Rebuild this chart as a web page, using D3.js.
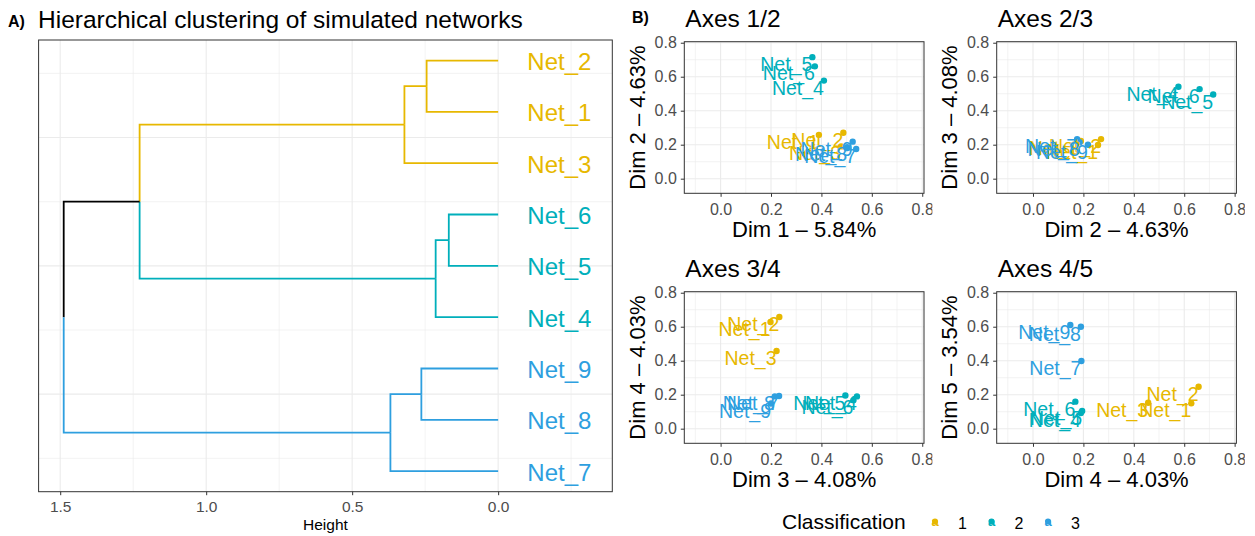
<!DOCTYPE html>
<html>
<head>
<meta charset="utf-8">
<script src="https://d3js.org/d3.v7.min.js"></script>
<style>
  body { margin: 0; background: #fff; }
  text { font-family: "Liberation Sans", Arial, sans-serif; }
</style>
</head>
<body>
<div id="chart"></div>
<script>
//networks and their cluster
var netNames = ["Net_1", "Net_2", "Net_3", "Net_4", "Net_5", "Net_6", "Net_7", "Net_8", "Net_9"];
var netCluster = [1, 1, 1, 2, 2, 2, 3, 3, 3];
var clusterColors = ["#E7B800", "#00AFBB", "#2E9FDF"];

//dendrogram: leaves from bottom to top, then the merges (R hclust style)
var leafOrder = ["Net_7", "Net_8", "Net_9", "Net_4", "Net_5", "Net_6", "Net_3", "Net_1", "Net_2"];
var mergeLeft = ["Net_2", "m1", "Net_6", "m3", "Net_9", "m5", "m2", "m7"];
var mergeRight = ["Net_1", "Net_3", "Net_5", "Net_4", "Net_8", "Net_7", "m4", "m6"];
var mergeHeight = [0.245, 0.321, 0.169, 0.214, 0.263, 0.369, 1.228, 1.488];
var heightTicks = [1.5, 1.0, 0.5, 0.0];
var heightGrid = [-0.25, 0, 0.25, 0.5, 0.75, 1, 1.25, 1.5];
var leafGrid = [1.25, 2.5, 3.75, 5, 6.25, 7.5, 8.75];

//coordinates of each network on the first five dimensions
var dim1 = [0.390, 0.487, 0.478, 0.410, 0.364, 0.374, 0.538, 0.502, 0.524];
var dim2 = [0.258, 0.270, 0.190, 0.577, 0.715, 0.661, 0.175, 0.185, 0.218];
var dim3 = [0.198, 0.233, 0.222, 0.541, 0.495, 0.527, 0.232, 0.215, 0.200];
var dim4 = [0.628, 0.657, 0.457, 0.190, 0.195, 0.168, 0.192, 0.190, 0.148];
var dim5 = [0.149, 0.247, 0.153, 0.092, 0.104, 0.159, 0.398, 0.600, 0.610];
var dimPct = ["5.84%", "4.63%", "4.08%", "4.03%", "3.54%"];
var scatterTicks = [0, 0.2, 0.4, 0.6, 0.8];
var scatterMinorX = [-0.1, 0.1, 0.3, 0.5, 0.7];
var scatterMinorY = [0.1, 0.3, 0.5, 0.7];
var legendLabels = ["1", "2", "3"];

var dims = [dim1, dim2, dim3, dim4, dim5];
var gridColor = "#EBEBEB";
var borderColor = "#333333";
var tickColor = "#4D4D4D";

var svg = d3
  .select("#chart")
  .append("svg")
  .attr("width", 1255)
  .attr("height", 536);

/* ---------- A) dendrogram ---------- */
var dend = { left: 38.6, right: 612.3, top: 40, bottom: 491.7 };

var hScale = d3.scaleLinear().domain([1.574, -0.391]).range([dend.left, dend.right]);
var leafScale = d3.scaleLinear().domain([0.6, 9.4]).range([dend.bottom, dend.top]);

svg.append("text").attr("x", 8).attr("y", 27)
  .style("font-size", "16px").style("font-weight", "bold").text("A)");
svg.append("text").attr("x", 38).attr("y", 28)
  .style("font-size", "24.5px").text("Hierarchical clustering of simulated networks");

var dg = svg.append("g");

dg.selectAll(".vgrid").data(heightGrid).enter().append("line")
  .attr("x1", function(d) { return hScale(d); })
  .attr("x2", function(d) { return hScale(d); })
  .attr("y1", dend.top).attr("y2", dend.bottom)
  .style("stroke", gridColor)
  .style("stroke-width", function(d) { return d % 0.5 === 0 ? 1.1 : 0.6; });

dg.selectAll(".hgrid").data(leafGrid).enter().append("line")
  .attr("y1", function(d) { return leafScale(d); })
  .attr("y2", function(d) { return leafScale(d); })
  .attr("x1", dend.left).attr("x2", dend.right)
  .style("stroke", gridColor)
  .style("stroke-width", function(d) { return d % 2.5 === 0 ? 1.1 : 0.6; });

//build nodes: position, height and colour
var nodes = {};
leafOrder.forEach(function(name, i) {
  nodes[name] = { pos: i + 1, h: 0, cl: netCluster[netNames.indexOf(name)] };
});
var edges = [];
mergeLeft.forEach(function(l, i) {
  var a = nodes[l], b = nodes[mergeRight[i]];
  var node = {
    pos: (a.pos + b.pos) / 2,
    h: mergeHeight[i],
    cl: a.cl === b.cl ? a.cl : 0
  };
  nodes["m" + (i + 1)] = node;
  [a, b].forEach(function(c) { edges.push({ parent: node, child: c }); });
});

function edgeColor(d) {
  return d.child.cl ? clusterColors[d.child.cl - 1] : "#000000";
}

dg.selectAll(".edge").data(edges).enter().append("path")
  .attr("d", function(d) {
    return "M" + hScale(d.parent.h) + "," + leafScale(d.parent.pos) +
      "V" + leafScale(d.child.pos) + "H" + hScale(d.child.h);
  })
  .style("fill", "none")
  .style("stroke", edgeColor)
  .style("stroke-width", 1.8);

dg.selectAll(".leaf").data(leafOrder).enter().append("text")
  .attr("x", hScale(-0.1))
  .attr("y", function(d, i) { return leafScale(i + 1); })
  .attr("dy", "0.4em")
  .style("font-size", "24px")
  .style("fill", function(d) { return clusterColors[netCluster[netNames.indexOf(d)] - 1]; })
  .text(function(d) { return d; });

dg.append("rect")
  .attr("x", dend.left).attr("y", dend.top)
  .attr("width", dend.right - dend.left).attr("height", dend.bottom - dend.top)
  .style("fill", "none").style("stroke", borderColor).style("stroke-width", 1);

var dAxis = dg.append("g")
  .attr("transform", "translate(0," + dend.bottom + ")")
  .call(d3.axisBottom(hScale).tickValues(heightTicks).tickFormat(d3.format(".1f"))
    .tickSize(3.5).tickPadding(6));
dAxis.select(".domain").remove();
dAxis.selectAll("line").style("stroke", borderColor);
dAxis.selectAll("text").style("font-size", "15.5px").style("fill", tickColor)
  .style("font-family", "Liberation Sans, Arial, sans-serif");

dg.append("text").attr("x", (dend.left + dend.right) / 2).attr("y", 530)
  .attr("text-anchor", "middle").style("font-size", "15.5px").text("Height");

/* ---------- B) scatter panels ---------- */
svg.append("text").attr("x", 632).attr("y", 23)
  .style("font-size", "16px").style("font-weight", "bold").text("B)");

var panelW = 239.7, panelH = 151.6;
var pairs = [[0, 1], [1, 2], [2, 3], [3, 4]];

pairs.forEach(function(pair, k) {
  var col = k % 2, row = Math.floor(k / 2);
  var left = 684.3 + col * 312.4;
  var top = 41.7 + row * 250;

  var clipId = "clip" + k;
  svg.append("clipPath").attr("id", clipId).append("rect")
    .attr("x", 620 + col * 312.4).attr("y", row * 250)
    .attr("width", 312.4).attr("height", 250);

  var g = svg.append("g").attr("clip-path", "url(#" + clipId + ")");

  var xScale = d3.scaleLinear().domain([-0.144, 0.807]).range([left, left + panelW]);
  var yScale = d3.scaleLinear().domain([-0.086, 0.806]).range([top + panelH, top]);

  //grid
  g.selectAll(".gx").data(scatterMinorX.concat(scatterTicks)).enter().append("line")
    .attr("x1", function(d) { return xScale(d); }).attr("x2", function(d) { return xScale(d); })
    .attr("y1", top).attr("y2", top + panelH)
    .style("stroke", gridColor)
    .style("stroke-width", function(d, i) { return i < scatterMinorX.length ? 0.6 : 1.1; });
  g.selectAll(".gy").data(scatterMinorY.concat(scatterTicks)).enter().append("line")
    .attr("y1", function(d) { return yScale(d); }).attr("y2", function(d) { return yScale(d); })
    .attr("x1", left).attr("x2", left + panelW)
    .style("stroke", gridColor)
    .style("stroke-width", function(d, i) { return i < scatterMinorY.length ? 0.6 : 1.1; });

  var xs = dims[pair[0]], ys = dims[pair[1]];

  g.selectAll(".pt").data(netNames).enter().append("circle")
    .attr("cx", function(d, i) { return xScale(xs[i]); })
    .attr("cy", function(d, i) { return yScale(ys[i]); })
    .attr("r", 3.2)
    .style("fill", function(d, i) { return clusterColors[netCluster[i] - 1]; });

  g.selectAll(".lbl").data(netNames).enter().append("text")
    .attr("x", function(d, i) { return xScale(xs[i]); })
    .attr("y", function(d, i) { return yScale(ys[i]); })
    .attr("dy", "0.72em")
    .attr("text-anchor", "end")
    .style("font-size", "19.5px")
    .style("fill", function(d, i) { return clusterColors[netCluster[i] - 1]; })
    .text(function(d) { return d; });

  g.append("rect")
    .attr("x", left).attr("y", top).attr("width", panelW).attr("height", panelH)
    .style("fill", "none").style("stroke", borderColor).style("stroke-width", 1);

  var xAxis = g.append("g")
    .attr("transform", "translate(0," + (top + panelH) + ")")
    .call(d3.axisBottom(xScale).tickValues(scatterTicks).tickFormat(d3.format(".1f"))
      .tickSize(3.5).tickPadding(7));
  var yAxis = g.append("g")
    .attr("transform", "translate(" + left + ",0)")
    .call(d3.axisLeft(yScale).tickValues(scatterTicks).tickFormat(d3.format(".1f"))
      .tickSize(3.5).tickPadding(4));
  [xAxis, yAxis].forEach(function(a) {
    a.select(".domain").remove();
    a.selectAll("line").style("stroke", borderColor);
    a.selectAll("text").style("font-size", "16px").style("fill", tickColor)
      .style("font-family", "Liberation Sans, Arial, sans-serif");
  });

  g.append("text").attr("x", left + 1).attr("y", top - 14.5)
    .style("font-size", "24.5px")
    .text("Axes " + (pair[0] + 1) + "/" + (pair[1] + 1));

  g.append("text").attr("x", left + panelW / 2).attr("y", top + 195.5)
    .attr("text-anchor", "middle").style("font-size", "22px")
    .text("Dim " + (pair[0] + 1) + " \u2013 " + dimPct[pair[0]]);

  g.append("text")
    .attr("transform", "translate(" + (left - 39.5) + "," + (top + panelH / 2) + ") rotate(-90)")
    .attr("text-anchor", "middle").style("font-size", "22px")
    .text("Dim " + (pair[1] + 1) + " \u2013 " + dimPct[pair[1]]);
});

/* ---------- legend ---------- */
var lg = svg.append("g");
lg.append("text").attr("x", 782).attr("y", 529).style("font-size", "21px").text("Classification");

var keys = lg.selectAll(".key").data(legendLabels).enter().append("g")
  .attr("transform", function(d, i) { return "translate(" + (935 + i * 56.5) + ",521.5)"; });
keys.append("circle").attr("r", 3)
  .style("fill", function(d, i) { return clusterColors[i]; });
keys.append("text").attr("text-anchor", "middle").attr("dy", "0.35em")
  .style("font-size", "13px").style("font-weight", "bold")
  .style("fill", function(d, i) { return clusterColors[i]; })
  .text("a");
keys.append("text").attr("x", 23).attr("y", 7)
  .style("font-size", "16px")
  .text(function(d) { return d; });
</script>
</body>
</html>
